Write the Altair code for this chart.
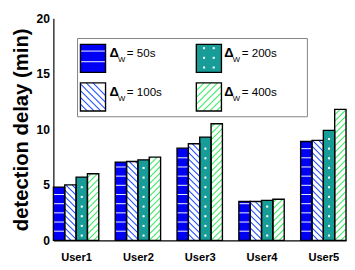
import json
import altair as alt
import pandas as pd

# ---------------- data ----------------
users = ["User1", "User2", "User3", "User4", "User5"]
series = ["50s", "100s", "200s", "400s"]
delay_50s = [4.8, 7.05, 8.3, 3.5, 8.9]
delay_100s = [5.0, 7.1, 8.7, 3.5, 9.0]
delay_200s = [5.7, 7.25, 9.3, 3.6, 9.9]
delay_400s = [6.0, 7.5, 10.5, 3.7, 11.8]
y_ticks = [0, 5, 10, 15, 20]

# ---------------- layout / style ----------------
W, H = 303, 230
YMAX = 20
PXY = H / YMAX          # px per minute
PXX = 64.0              # px per group step
XMAX = W / PXX
BAR = 11.75 / PXX       # bar width in group units

FONT = "'Liberation Sans', Arial, sans-serif"

fill_colors = ["#0000f5", "#ffffff", "#189c97", "#ffffff"]
hatch_kind = {"50s": "hlines", "100s": "back", "200s": "dots", "400s": "fwd"}
hatch_colors = ["#e4e4ff", "#2050ff", "#ffffff", "#3cec64"]

# legend layout in plot pixels (origin bottom-left of plot, y upward)
leg_box = (25, 263, 128, 209)
leg_swatch = {"50s": (28, 54, 174, 203), "100s": (28, 54, 134, 163),
              "200s": (148, 174, 174, 203), "400s": (148, 174, 134, 163)}
leg_text_base = {"50s": (58, 190), "100s": (58, 149), "200s": (177, 190), "400s": (177, 149)}

values = {"50s": delay_50s, "100s": delay_100s, "200s": delay_200s, "400s": delay_400s}

# ---------------- rectangles: bars + legend swatches ----------------
rects = []
for g, u in enumerate(users):
    for j, s in enumerate(series):
        rects.append(dict(series=s, x=g + j * BAR, x2=g + (j + 1) * BAR, y=0.0, y2=values[s][g], leg=0))
for s, (a, b, c, d) in leg_swatch.items():
    rects.append(dict(series=s, x=a / PXX, x2=b / PXX, y=c / PXY, y2=d / PXY, leg=1))
rects = pd.DataFrame(rects)


def hatch_segments(kind, x0, x1, y0, y1, leg):
    segs, dots = [], []
    if kind == "hlines":
        sp = 11.0 if leg else 9.5
        k = 1
        while y0 + k * sp < y1 - 2:
            segs.append((x0, y0 + k * sp, x1, y0 + k * sp))
            k += 1
    elif kind in ("fwd", "back"):
        sp = 7.0 if leg else 6.5
        w, h = x1 - x0, y1 - y0
        k0 = -int(w / sp) - 2
        k1 = int(h / sp) + 2
        for k in range(k0, k1 + 1):
            c = k * sp
            if kind == "fwd":   # y - y0 = (x - x0) + c
                xs = max(x0, x0 - c)
                xe = min(x1, x0 + (h - c))
                if xe - xs > 0.3:
                    segs.append((xs, y0 + (xs - x0) + c, xe, y0 + (xe - x0) + c))
            else:               # y - y0 = -(x - x0) + c
                xs = max(x0, x0 + c - h)
                xe = min(x1, x0 + c)
                if xe - xs > 0.3:
                    segs.append((xs, y0 - (xs - x0) + c, xe, y0 - (xe - x0) + c))
    elif kind == "dots":
        w = x1 - x0
        n = max(1, int(w / 10))
        start = x0 + (w - (n - 1) * 10) / 2
        k = 0
        while y0 + 5 + k * 10 < y1 - 3:
            for i in range(n):
                dots.append((start + i * 10, y0 + 5 + k * 10))
            k += 1
    return segs, dots


seg_rows, dot_rows = [], []
for r in rects.itertuples():
    x0, x1, y0, y1 = r.x * PXX, r.x2 * PXX, r.y * PXY, r.y2 * PXY
    segs, dots = hatch_segments(hatch_kind[r.series], x0, x1, y0, y1, r.leg)
    for (a, b, c, d) in segs:
        seg_rows.append(dict(series=r.series, x=a / PXX, y=b / PXY, x2=c / PXX, y2=d / PXY))
    for (a, b) in dots:
        dot_rows.append(dict(series=r.series, x=a / PXX, y=b / PXY))
segs_df = pd.DataFrame(seg_rows)
dots_df = pd.DataFrame(dot_rows)

box_df = pd.DataFrame([dict(x=leg_box[0] / PXX, x2=leg_box[1] / PXX, y=leg_box[2] / PXY, y2=leg_box[3] / PXY)])

txt_rows = []
for s, (tx, ty) in leg_text_base.items():
    txt_rows.append(dict(part="delta", text="\u0394", x=tx / PXX, y=ty / PXY))
    txt_rows.append(dict(part="sub", text="W", x=(tx + 8.8) / PXX, y=(ty - 5) / PXY))
    txt_rows.append(dict(part="lab", text="= " + s, x=(tx + 18) / PXX, y=ty / PXY))
txt_df = pd.DataFrame(txt_rows)

# ---------------- scales & axes (identical in every layer) ----------------
xs = alt.Scale(domain=[0, XMAX], nice=False, zero=False)
ys = alt.Scale(domain=[0, YMAX], nice=False, zero=True)
centers = [g + 2 * BAR for g in range(len(users))]
label_expr = f"{json.dumps(users)}[round(datum.value - {2 * BAR})]"

x_axis = alt.Axis(values=centers, labelExpr=label_expr, ticks=False, grid=False,
                  domainColor="black", domainWidth=1.2, labelFont=FONT,
                  labelFontSize=11.5, labelFontWeight="bold", labelColor="black",
                  labelPadding=12, labelBaseline="top")
y_axis = alt.Axis(values=y_ticks, ticks=False, grid=False, domainColor="black",
                  domainWidth=1.2, labelFont=FONT, labelFontSize=12.5,
                  labelFontWeight="bold", labelColor="black", labelPadding=4,
                  titleFont=FONT, titleFontSize=21, titleFontWeight="bold",
                  titleColor="black", titlePadding=5)
Y_TITLE = "detection delay (min)"


def X(f):
    return alt.X(f, type="quantitative", scale=xs, title=None, axis=x_axis)


def Y(f):
    return alt.Y(f, type="quantitative", scale=ys, title=Y_TITLE, axis=y_axis)


box = alt.Chart(box_df).mark_rect(fill="white", stroke="#808080", strokeWidth=1).encode(
    x=X("x"), x2="x2", y=Y("y"), y2="y2")

fills = alt.Chart(rects).mark_rect(strokeWidth=0).encode(
    x=X("x"), x2="x2", y=Y("y"), y2="y2",
    fill=alt.Fill("series:N", scale=alt.Scale(domain=series, range=fill_colors), legend=None),
)

hatch = alt.Chart(segs_df).mark_rule(strokeWidth=1.1).encode(
    x=X("x"), y=Y("y"), x2="x2", y2="y2",
    stroke=alt.Stroke("series:N", scale=alt.Scale(domain=series, range=hatch_colors), legend=None),
)

dots = alt.Chart(dots_df).mark_square(size=4.5, color="white", opacity=1).encode(
    x=X("x"), y=Y("y"))

outline = alt.Chart(rects).mark_rect(fillOpacity=0, stroke="black", strokeWidth=1.4).encode(
    x=X("x"), x2="x2", y=Y("y"), y2="y2")

t_delta = alt.Chart(txt_df).transform_filter("datum.part == 'delta'").mark_text(
    align="left", baseline="alphabetic", font=FONT, fontSize=13.5, fontWeight="bold", color="black"
).encode(x=X("x"), y=Y("y"), text="text:N")
t_sub = alt.Chart(txt_df).transform_filter("datum.part == 'sub'").mark_text(
    align="left", baseline="alphabetic", font=FONT, fontSize=8, color="black"
).encode(x=X("x"), y=Y("y"), text="text:N")
t_lab = alt.Chart(txt_df).transform_filter("datum.part == 'lab'").mark_text(
    align="left", baseline="alphabetic", font=FONT, fontSize=12, color="black"
).encode(x=X("x"), y=Y("y"), text="text:N")

chart = alt.layer(box, fills, hatch, dots, outline, t_delta, t_sub, t_lab).properties(
    width=W, height=H, background="white",
    padding={"left": 3, "top": 0, "right": 0, "bottom": 0}
).configure_view(stroke=None)

chart.save("out.html", embed_options={"renderer": "svg", "actions": False})
